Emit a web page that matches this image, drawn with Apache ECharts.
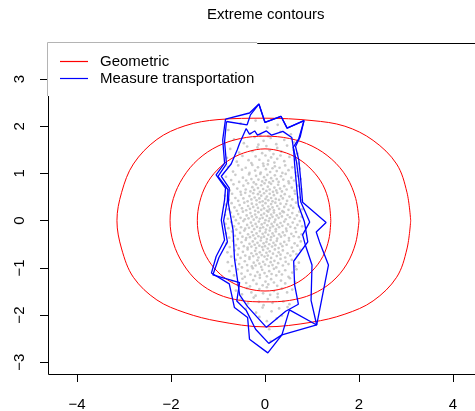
<!DOCTYPE html>
<html><head><meta charset="utf-8">
<script src="https://cdn.jsdelivr.net/npm/echarts@6/dist/echarts.min.js"></script>
<style>html,body{margin:0;padding:0;background:#fff}#c{width:475px;height:411px}</style>
</head><body><div id="c"></div>
<script>
// ---- tick labels ----
const xTicks = [-4, -2, 0, 2, 4];
const yTicks = [-3, -2, -1, 0, 1, 2, 3];
const legendNames = ['Geometric', 'Measure transportation'];

// ---- Geometric contours (red) ----
const geomOuter = [[3.1,0],[3.02,0.6],[2.8,1.2],[2.3,1.7],[1.7,2.0],[1.0,2.12],[0,2.17],[-1.0,2.14],[-1.7,2.01],[-2.3,1.72],[-2.8,1.2],[-3.05,0.6],[-3.15,0],[-3.05,-0.6],[-2.8,-1.2],[-2.3,-1.68],[-1.7,-1.95],[-1.0,-2.13],[0,-2.25],[1.0,-2.15],[1.7,-1.98],[2.3,-1.7],[2.8,-1.2],[3.02,-0.6],[3.1,0]];
const geomMiddle = [[2.0,0],[1.93,0.47],[1.74,0.92],[1.42,1.3],[1.0,1.58],[0.52,1.74],[0,1.79],[-0.52,1.74],[-1.0,1.58],[-1.42,1.3],[-1.74,0.92],[-1.95,0.47],[-2.02,0],[-1.95,-0.47],[-1.74,-0.92],[-1.42,-1.3],[-1.0,-1.56],[-0.52,-1.69],[0,-1.72],[0.52,-1.69],[1.0,-1.56],[1.42,-1.3],[1.74,-0.92],[1.93,-0.47],[2.0,0]];
const geomInner = [[1.4,0],[1.36,0.39],[1.23,0.76],[1.0,1.07],[0.71,1.31],[0.37,1.46],[0,1.52],[-0.37,1.46],[-0.72,1.31],[-1.02,1.07],[-1.25,0.76],[-1.39,0.39],[-1.44,0],[-1.39,-0.39],[-1.25,-0.76],[-1.02,-1.07],[-0.72,-1.3],[-0.37,-1.44],[0,-1.49],[0.37,-1.44],[0.71,-1.3],[1.0,-1.07],[1.23,-0.76],[1.36,-0.39],[1.4,0]];

// ---- Measure transportation contours (blue) ----
const mtOuter = [[-0.84,2.15],[-0.33,2.28],[-0.13,2.47],[0.0,2.08],[0.34,2.21],[0.47,1.96],[0.83,2.12],[0.75,1.78],[0.65,1.57],[0.72,1.28],[0.76,0.86],[0.80,0.39],[1.30,-0.04],[1.09,-0.24],[1.16,-0.45],[1.35,-0.94],[1.10,-2.21],[0.36,-2.42],[0.06,-2.80],[-0.33,-2.51],[-0.37,-2.05],[-0.65,-1.84],[-0.76,-1.34],[-1.14,-1.11],[-1.04,-0.76],[-0.86,-0.41],[-0.93,0.01],[-0.86,0.44],[-0.84,0.69],[-1.04,0.97],[-0.86,1.22],[-0.90,1.71],[-0.84,2.15]];
const mtMiddle = [[-0.82,2.1],[-0.38,2.03],[-0.31,2.24],[-0.13,2.47],[0.0,2.08],[0.34,2.21],[0.47,1.96],[0.83,2.12],[0.72,1.74],[0.6,1.55],[0.67,1.25],[0.72,0.85],[0.76,0.4],[0.85,0.2],[0.95,-0.03],[0.8,-0.3],[0.86,-0.52],[1.0,-0.94],[0.98,-1.69],[1.1,-2.21],[0.52,-1.89],[0.36,-2.42],[0.08,-2.6],[-0.2,-2.3],[-0.4,-1.9],[-0.6,-1.7],[-0.54,-1.31],[-1.11,-1.15],[-0.98,-0.78],[-0.8,-0.45],[-0.88,0.0],[-0.8,0.42],[-0.79,0.66],[-1.0,0.94],[-0.82,1.2],[-0.86,1.68],[-0.82,2.1]];
const mtInner = [[-0.40,1.95],[-0.33,1.83],[-0.22,1.90],[-0.16,1.81],[0.03,1.90],[0.14,1.81],[0.38,1.89],[0.57,1.76],[0.61,1.50],[0.63,1.20],[0.67,0.75],[0.71,0.33],[0.84,-0.03],[0.91,-0.45],[0.61,-0.86],[0.63,-1.36],[0.71,-1.77],[0.44,-1.92],[0.03,-2.26],[-0.37,-1.82],[-0.54,-1.57],[-0.65,-0.8],[-0.68,-0.2],[-0.78,0.37],[-0.76,0.69],[-0.93,0.94],[-0.72,1.20],[-0.59,1.50],[-0.54,1.64],[-0.40,1.95]];

// ---- sample points (gray) ----
const cloud = [
[-0.52,2.06],[0.27,2.03],[-0.2,2.12],
[-0.78,1.92],[-0.31,1.85],[0.05,1.97],[0.33,1.88],[0.55,1.83],[-0.1,1.81],
[-0.66,1.72],[-0.45,1.64],[-0.22,1.77],[-0.03,1.69],[0.12,1.75],[0.24,1.62],[0.41,1.71],[0.62,1.66],[-0.14,1.61],[0.07,1.79],
[-0.74,1.52],[-0.55,1.44],[-0.38,1.57],[-0.27,1.47],[-0.16,1.55],[-0.06,1.43],[0.03,1.58],[0.1,1.49],[0.18,1.41],[0.26,1.54],[0.35,1.46],[0.47,1.59],[0.6,1.5],[0.69,1.42],
[-0.81,1.33],[-0.6,1.25],[-0.48,1.37],[-0.35,1.28],[-0.29,1.22],[-0.2,1.36],[-0.12,1.29],[-0.04,1.21],[0.01,1.38],[0.07,1.27],[0.13,1.34],[0.2,1.23],[0.26,1.31],[0.33,1.38],[0.41,1.26],[0.52,1.35],[0.64,1.29],[0.72,1.21],
[-0.79,1.14],[-0.68,1.04],[-0.57,1.17],[-0.49,1.08],[-0.41,1.12],[-0.33,1.01],[-0.27,1.18],[-0.21,1.06],[-0.15,1.13],[-0.09,1.02],[-0.03,1.16],[0.02,1.09],[0.06,1.19],[0.11,1.03],[0.16,1.11],[0.21,1.15],[0.25,1.05],[0.31,1.12],[0.37,1.01],[0.43,1.17],[0.5,1.07],[0.58,1.13],[0.66,1.02],[0.74,1.1],
[-0.83,0.93],[-0.72,0.86],[-0.63,0.97],[-0.55,0.82],[-0.47,0.91],[-0.4,0.85],[-0.34,0.98],[-0.29,0.88],[-0.24,0.81],[-0.19,0.95],[-0.14,0.87],[-0.1,0.99],[-0.06,0.83],[-0.02,0.92],[0.02,0.86],[0.05,0.97],[0.09,0.81],[0.13,0.9],[0.17,0.84],[0.21,0.96],[0.25,0.88],[0.29,0.82],[0.34,0.94],[0.39,0.87],[0.44,0.99],[0.5,0.83],[0.56,0.91],[0.62,0.85],[0.69,0.95],[0.76,0.88],
[-0.84,0.72],[-0.75,0.64],[-0.67,0.77],[-0.59,0.68],[-0.52,0.61],[-0.46,0.74],[-0.41,0.66],[-0.36,0.79],[-0.31,0.62],[-0.27,0.71],[-0.23,0.65],[-0.19,0.77],[-0.15,0.69],[-0.11,0.61],[-0.08,0.75],[-0.04,0.67],[-0.01,0.79],[0.03,0.63],[0.06,0.72],[0.1,0.66],[0.13,0.78],[0.17,0.61],[0.2,0.7],[0.24,0.64],[0.28,0.76],[0.32,0.68],[0.36,0.62],[0.41,0.73],[0.46,0.66],[0.51,0.79],[0.57,0.7],[0.63,0.63],[0.7,0.74],[0.77,0.67],
[-0.85,0.53],[-0.77,0.44],[-0.7,0.57],[-0.63,0.48],[-0.57,0.42],[-0.51,0.55],[-0.46,0.47],[-0.42,0.59],[-0.37,0.41],[-0.33,0.52],[-0.29,0.45],[-0.25,0.58],[-0.22,0.49],[-0.18,0.43],[-0.15,0.56],[-0.12,0.47],[-0.08,0.53],[-0.05,0.41],[-0.02,0.58],[0.01,0.46],[0.04,0.51],[0.07,0.43],[0.1,0.57],[0.13,0.48],[0.16,0.41],[0.19,0.54],[0.23,0.46],[0.26,0.59],[0.3,0.44],[0.34,0.52],[0.38,0.47],[0.42,0.56],[0.47,0.42],[0.52,0.51],[0.58,0.45],[0.64,0.57],[0.71,0.49],[0.78,0.43],
[-0.84,0.34],[-0.78,0.24],[-0.71,0.37],[-0.65,0.28],[-0.6,0.21],[-0.54,0.33],[-0.49,0.26],[-0.44,0.38],[-0.4,0.22],[-0.36,0.31],[-0.32,0.25],[-0.28,0.36],[-0.25,0.29],[-0.21,0.21],[-0.18,0.34],[-0.15,0.27],[-0.11,0.39],[-0.08,0.23],[-0.05,0.32],[-0.02,0.26],[0.01,0.37],[0.04,0.21],[0.07,0.3],[0.1,0.24],[0.13,0.35],[0.16,0.28],[0.19,0.22],[0.22,0.38],[0.26,0.31],[0.3,0.25],[0.33,0.36],[0.37,0.2],[0.41,0.29],[0.45,0.35],[0.5,0.23],[0.55,0.32],[0.6,0.27],[0.66,0.38],[0.72,0.3],[0.79,0.24],
[-0.85,0.12],[-0.79,0.04],[-0.73,0.17],[-0.67,0.08],[-0.62,0.01],[-0.57,0.14],[-0.52,0.06],[-0.47,0.19],[-0.43,0.03],[-0.39,0.11],[-0.35,0.05],[-0.31,0.16],[-0.28,0.09],[-0.24,0.02],[-0.21,0.13],[-0.18,0.07],[-0.14,0.18],[-0.11,0.04],[-0.08,0.12],[-0.05,0.06],[-0.02,0.15],[0.01,0.01],[0.04,0.1],[0.07,0.19],[0.1,0.05],[0.13,0.13],[0.16,0.08],[0.19,0.17],[0.22,0.02],[0.25,0.11],[0.29,0.06],[0.32,0.15],[0.36,0.09],[0.4,0.18],[0.44,0.03],[0.48,0.12],[0.53,0.07],[0.58,0.16],[0.63,0.04],[0.68,0.11],[0.73,0.19],[0.78,0.08],
[-0.84,-0.07],[-0.78,-0.16],[-0.72,-0.03],[-0.66,-0.12],[-0.61,-0.19],[-0.56,-0.06],[-0.51,-0.14],[-0.46,-0.01],[-0.42,-0.17],[-0.38,-0.09],[-0.34,-0.15],[-0.3,-0.04],[-0.27,-0.11],[-0.23,-0.18],[-0.2,-0.07],[-0.17,-0.13],[-0.13,-0.02],[-0.1,-0.16],[-0.07,-0.08],[-0.04,-0.14],[-0.01,-0.05],[0.02,-0.19],[0.05,-0.1],[0.08,-0.01],[0.11,-0.15],[0.14,-0.07],[0.17,-0.12],[0.2,-0.03],[0.23,-0.18],[0.26,-0.09],[0.3,-0.14],[0.33,-0.05],[0.37,-0.11],[0.41,-0.02],[0.45,-0.17],[0.49,-0.08],[0.54,-0.13],[0.59,-0.04],[0.64,-0.16],[0.69,-0.09],[0.74,-0.01],[0.79,-0.12],
[-0.83,-0.27],[-0.76,-0.36],[-0.7,-0.23],[-0.64,-0.32],[-0.58,-0.39],[-0.53,-0.26],[-0.48,-0.34],[-0.44,-0.21],[-0.4,-0.37],[-0.36,-0.29],[-0.32,-0.35],[-0.28,-0.24],[-0.25,-0.31],[-0.21,-0.38],[-0.18,-0.27],[-0.14,-0.33],[-0.11,-0.22],[-0.08,-0.36],[-0.05,-0.28],[-0.02,-0.34],[0.01,-0.25],[0.04,-0.39],[0.07,-0.3],[0.1,-0.21],[0.13,-0.35],[0.16,-0.27],[0.19,-0.32],[0.23,-0.23],[0.26,-0.38],[0.3,-0.29],[0.34,-0.34],[0.38,-0.25],[0.42,-0.31],[0.46,-0.22],[0.51,-0.37],[0.56,-0.28],[0.61,-0.33],[0.66,-0.24],[0.72,-0.35],[0.78,-0.29],
[-0.82,-0.48],[-0.75,-0.56],[-0.68,-0.43],[-0.62,-0.52],[-0.56,-0.59],[-0.5,-0.46],[-0.45,-0.54],[-0.41,-0.41],[-0.37,-0.57],[-0.33,-0.49],[-0.29,-0.55],[-0.26,-0.44],[-0.22,-0.51],[-0.19,-0.58],[-0.16,-0.47],[-0.12,-0.53],[-0.09,-0.42],[-0.06,-0.56],[-0.03,-0.48],[0.0,-0.54],[0.03,-0.45],[0.06,-0.59],[0.09,-0.5],[0.12,-0.41],[0.15,-0.55],[0.18,-0.47],[0.22,-0.52],[0.25,-0.43],[0.29,-0.58],[0.33,-0.49],[0.37,-0.54],[0.41,-0.45],[0.46,-0.51],[0.51,-0.42],[0.57,-0.57],[0.63,-0.48],[0.69,-0.53],[0.76,-0.44],
[-0.8,-0.67],[-0.72,-0.76],[-0.65,-0.63],[-0.58,-0.72],[-0.52,-0.79],[-0.47,-0.66],[-0.42,-0.74],[-0.37,-0.61],[-0.33,-0.77],[-0.29,-0.69],[-0.25,-0.75],[-0.21,-0.64],[-0.18,-0.71],[-0.14,-0.78],[-0.11,-0.67],[-0.07,-0.73],[-0.04,-0.62],[-0.01,-0.76],[0.03,-0.68],[0.06,-0.74],[0.1,-0.65],[0.13,-0.79],[0.17,-0.7],[0.21,-0.61],[0.25,-0.75],[0.29,-0.67],[0.33,-0.72],[0.38,-0.63],[0.43,-0.78],[0.48,-0.69],[0.54,-0.74],[0.6,-0.65],[0.67,-0.71],[0.75,-0.62],
[-0.79,-0.88],[-0.7,-0.96],[-0.62,-0.83],[-0.55,-0.92],[-0.49,-0.99],[-0.43,-0.86],[-0.38,-0.94],[-0.33,-0.81],[-0.28,-0.97],[-0.24,-0.89],[-0.2,-0.95],[-0.16,-0.84],[-0.12,-0.91],[-0.08,-0.98],[-0.04,-0.87],[0.0,-0.93],[0.04,-0.82],[0.08,-0.96],[0.12,-0.88],[0.16,-0.94],[0.2,-0.85],[0.24,-0.99],[0.28,-0.9],[0.33,-0.81],[0.38,-0.95],[0.44,-0.87],[0.5,-0.92],[0.57,-0.83],[0.64,-0.97],[0.72,-0.89],
[-0.76,-1.07],[-0.66,-1.16],[-0.58,-1.03],[-0.5,-1.12],[-0.43,-1.19],[-0.37,-1.06],[-0.31,-1.14],[-0.26,-1.01],[-0.21,-1.17],[-0.16,-1.09],[-0.11,-1.15],[-0.06,-1.04],[-0.01,-1.11],[0.04,-1.18],[0.09,-1.07],[0.14,-1.13],[0.19,-1.02],[0.24,-1.16],[0.3,-1.08],[0.36,-1.14],[0.43,-1.05],[0.5,-1.19],[0.58,-1.1],[0.67,-1.03],
[-0.7,-1.28],[-0.58,-1.36],[-0.48,-1.23],[-0.4,-1.32],[-0.32,-1.39],[-0.25,-1.26],[-0.18,-1.34],[-0.11,-1.21],[-0.05,-1.37],[0.01,-1.29],[0.07,-1.35],[0.13,-1.24],[0.19,-1.31],[0.26,-1.38],[0.34,-1.27],[0.43,-1.33],[0.53,-1.22],[0.64,-1.3],
[-0.62,-1.48],[-0.49,-1.56],[-0.38,-1.43],[-0.29,-1.52],[-0.2,-1.59],[-0.12,-1.45],[-0.04,-1.54],[0.04,-1.41],[0.11,-1.57],[0.19,-1.49],[0.27,-1.55],[0.36,-1.44],[0.47,-1.52],[0.58,-1.46],
[-0.52,-1.67],[-0.36,-1.75],[-0.24,-1.63],[-0.13,-1.72],[-0.03,-1.79],[0.06,-1.66],[0.16,-1.74],[0.27,-1.62],[0.39,-1.71],[0.52,-1.77],
[-0.41,-1.87],[-0.19,-1.95],[-0.05,-1.84],[0.14,-1.92],[0.3,-1.86],[0.48,-1.83],
[-0.12,-2.04],[0.04,-2.13],[0.25,-2.07],[0.36,-2.01],
[0.09,-2.3],[0.12,-2.55]
];

const FONT = '"Liberation Sans", Arial, Helvetica, sans-serif';
const minus = v => String(v).replace('-', '\u2212');

function contour(name, data, color, width, smooth, z) {
  return { type: 'line', name: name, data: data, smooth: smooth, symbol: 'none', showSymbol: false,
    lineStyle: { color: color, width: width }, itemStyle: { color: color }, z: z, silent: true,
    animation: false, clip: false };
}

const chart = echarts.init(document.getElementById('c'), null, { renderer: 'canvas' });
chart.setOption({
  animation: false,
  backgroundColor: '#fff',
  title: { text: 'Extreme contours', left: 207, top: 7, padding: 0,
    textStyle: { fontFamily: FONT, fontSize: 15, fontWeight: 'normal', color: '#000' } },
  legend: { data: legendNames, icon: 'rect', orient: 'vertical', left: 47, top: 42, padding: [12, 3, 10, 13],
    itemWidth: 28, itemHeight: 1.2, itemGap: 2, backgroundColor: '#fff', z: 10,
    textStyle: { fontFamily: FONT, fontSize: 15, color: '#000', padding: [0, 0, 0, 7] } },
  graphic: [
    // plot frame (R box), partly covered by the legend background
    { type: 'rect', shape: { x: 48.5, y: 43.5, width: 435, height: 331 }, style: { fill: null, stroke: '#000', lineWidth: 1 }, z: 1, silent: true },
    { type: 'line', shape: { x1: 47.5, y1: 42.5, x2: 257, y2: 42.5 }, style: { stroke: '#b4b4b4', lineWidth: 1 }, z: 20, silent: true },
    { type: 'line', shape: { x1: 47.5, y1: 42.5, x2: 47.5, y2: 96 }, style: { stroke: '#b4b4b4', lineWidth: 1 }, z: 20, silent: true }
  ],
  grid: { left: 77, top: 79, width: 376, height: 283.3, show: false, containLabel: false, outerBoundsMode: 'none' },
  xAxis: { type: 'value', position: 'bottom', min: -4, max: 4, interval: 2, offset: 11.7,
    axisLine: { show: false, onZero: false }, splitLine: { show: false },
    axisTick: { show: true, inside: false, length: 8, lineStyle: { color: '#000', width: 1 } },
    axisLabel: { formatter: minus, showMinLabel: true, showMaxLabel: true, fontFamily: FONT, fontSize: 15, color: '#000', margin: 23 } },
  yAxis: { type: 'value', position: 'left', min: -3, max: 3, interval: 1, offset: 29,
    axisLine: { show: false, onZero: false }, splitLine: { show: false },
    axisTick: { show: true, inside: false, length: 8, lineStyle: { color: '#000', width: 1 } },
    axisLabel: { formatter: minus, showMinLabel: true, showMaxLabel: true, rotate: 90, fontFamily: FONT, fontSize: 15, color: '#000', margin: 21 } },
  series: [
    { type: 'scatter', data: cloud, symbol: 'circle', symbolSize: 2.7, itemStyle: { color: '#BEBEBE' }, z: 2, silent: true, clip: false },
    contour('Geometric', geomOuter, '#FF0000', 1, 0.35, 3),
    contour('Geometric', geomMiddle, '#FF0000', 1, 0.35, 3),
    contour('Geometric', geomInner, '#FF0000', 1, 0.35, 3),
    contour('Measure transportation', mtOuter, '#0000FF', 1.3, false, 4),
    contour('Measure transportation', mtMiddle, '#0000FF', 1.3, false, 4),
    contour('Measure transportation', mtInner, '#0000FF', 1.3, false, 4)
  ]
});
</script>
</body></html>
